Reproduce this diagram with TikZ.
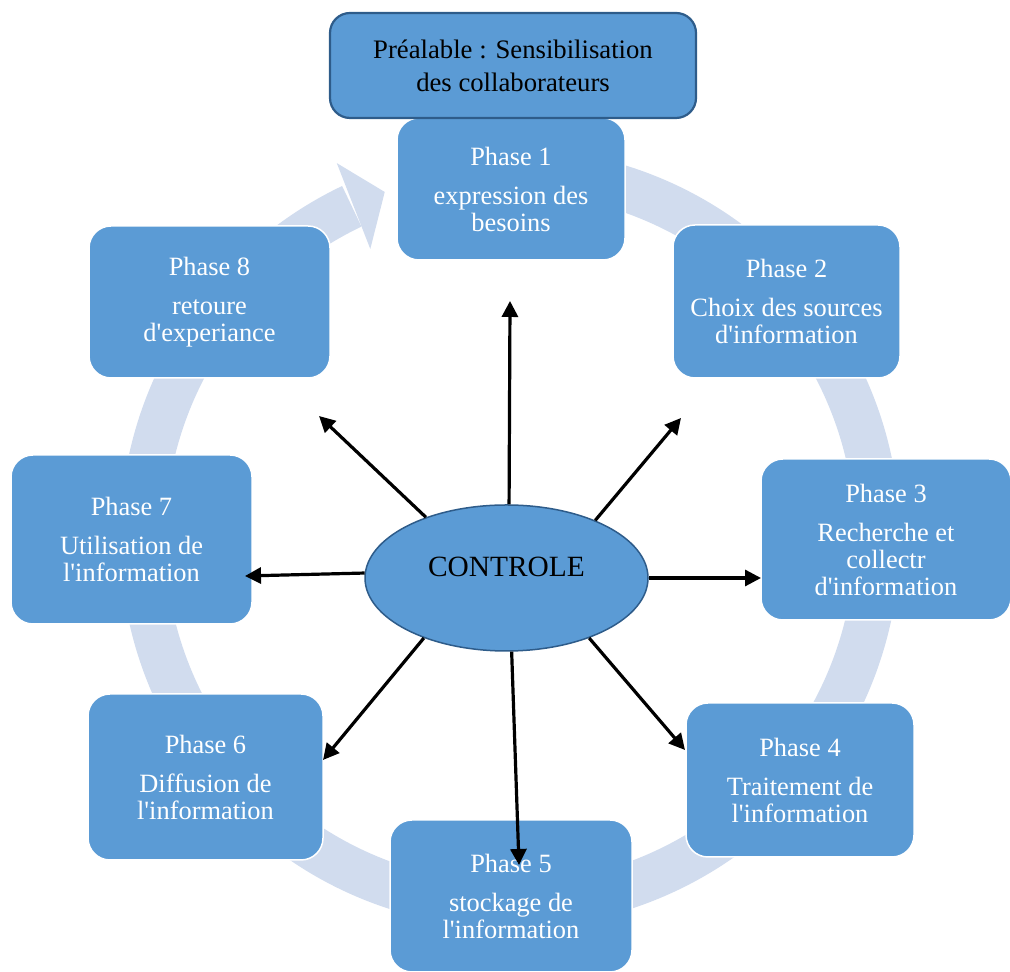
\documentclass[tikz,border=0pt]{standalone}
\usepackage{fontspec}
\setmainfont{Liberation Serif}[Ligatures=TeXOff]
\usetikzlibrary{shapes.geometric,arrows.meta,calc}
\definecolor{boxblue}{HTML}{5B9BD5}
\definecolor{edgeblue}{HTML}{2E5C8A}
\definecolor{ringblue}{HTML}{D1DCEE}
\begin{document}
\begin{tikzpicture}[x=0.5pt,y=0.5pt,
  phase/.style={draw=white, line width=0.75pt, fill=boxblue, rounded corners=11pt,
    text=white, align=center, inner sep=0pt,
    font=\fontsize{13.2}{13.5}\selectfont},
  prebox/.style={draw=edgeblue, line width=1.1pt, fill=boxblue, rounded corners=10pt,
    text=black, align=center, inner sep=0pt,
    font=\fontsize{13.35}{16.5}\selectfont},
  ctrlnode/.style={ellipse, draw=edgeblue, line width=0.75pt, fill=boxblue,
    minimum width=141.5pt, minimum height=73pt, inner sep=0pt,
    text height=10pt, text depth=11.3pt, font=\fontsize{14.7}{16}\selectfont},
  ctrlarrow/.style={line width=1.6pt, -{Triangle[length=8pt,width=8pt]}},
  ringfill/.style={fill=ringblue}]
\useasboundingbox (0,0) rectangle (1010,972);

% cycle band with its arrow head
\coordinate (rc) at (510,434);
\fill[ringfill] ($(rc)+(80:390)$) arc[start angle=80, end angle=-244.5, radius=390]
  -- ($(rc)+(-244.5:345)$) arc[start angle=-244.5, end angle=80, radius=345] -- cycle;
\fill[ringfill] ($(rc)+(115.8:321)$) -- ($(rc)+(114.8:413)$) -- ($(rc)+(109.9:368)$) -- cycle;

% phases
\node[phase, minimum width=114pt,  minimum height=71pt]   (p1) at (511,783)   {Phase 1\\[6pt]expression des\\besoins};
\node[phase, minimum width=113.5pt,minimum height=76.5pt] (p2) at (786.5,670.5) {Phase 2\\[6pt]Choix des sources\\d'information};
\node[phase, minimum width=125pt,  minimum height=80.5pt] (p3) at (886,432.5) {Phase 3\\[6pt]Recherche et\\collectr\\d'information};
\node[phase, minimum width=114pt,  minimum height=77pt]   (p4) at (800,192)   {Phase 4\\[6pt]Traitement de\\l'information};
\node[phase, minimum width=121pt,  minimum height=76pt]   (p5) at (511,76)    {Phase 5\\[6pt]stockage de\\l'information};
\node[phase, minimum width=117.5pt,minimum height=83pt]   (p6) at (205.5,195) {Phase 6\\[6pt]Diffusion de\\l'information};
\node[phase, minimum width=120.5pt,minimum height=84.5pt] (p7) at (131.5,432.5) {Phase 7\\[6pt]Utilisation de\\l'information};
\node[phase, minimum width=120.5pt,minimum height=76pt]   (p8) at (209.5,670) {Phase 8\\[6pt]retoure\\d'experiance};

% prerequisite
\node[prebox, minimum width=183pt, minimum height=52.5pt] (pre) at (513,906.5)
  {Préalable : Sensibilisation\\des collaborateurs};

% central control
\node[ctrlnode] (ctrl) at (506.5,394) {CONTROLE};

% arrow tips
\coordinate (t1) at (510,671);
\coordinate (t2) at (681,554);
\coordinate (t3) at (761,394);
\coordinate (t4) at (685,222);
\coordinate (t5) at (519,107);
\coordinate (t6) at (323,212);
\coordinate (t7) at (245,396);
\coordinate (t8) at (319,556);

% arrows leave the ellipse at these border angles
\foreach \a/\t in {88/t1, 33/t2, 0/t3, -36.6/t4, -86/t5, 216.6/t6, 178/t7, 143.6/t8}
  \draw[ctrlarrow] (ctrl.\a) -- (\t);
\end{tikzpicture}
\end{document}
